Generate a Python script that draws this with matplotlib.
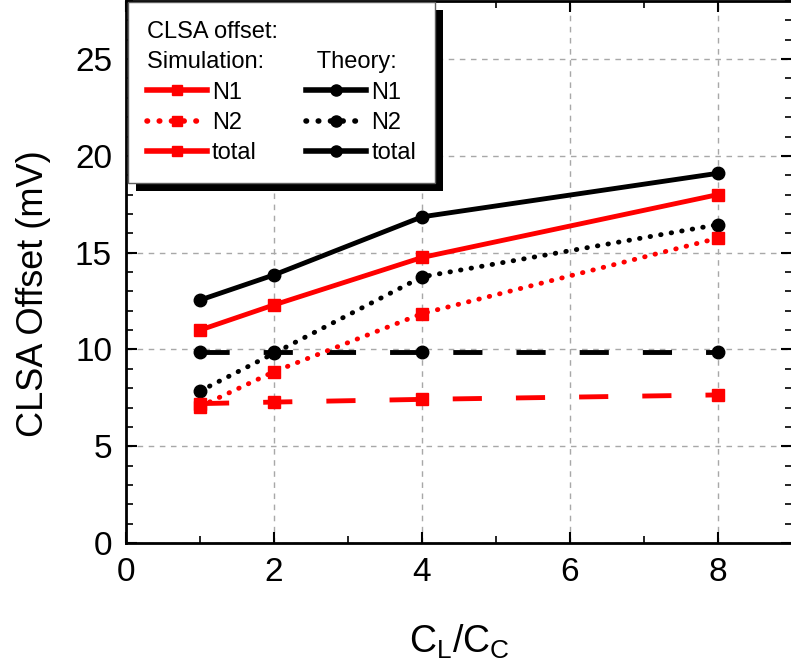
import matplotlib
matplotlib.use("Agg")
import matplotlib.pyplot as plt
from matplotlib.lines import Line2D
from matplotlib.patches import Rectangle
from matplotlib.ticker import MultipleLocator

plt.rcParams['font.family'] = ['Liberation Sans', 'DejaVu Sans']
plt.rcParams['mathtext.fontset'] = 'custom'
plt.rcParams['mathtext.rm'] = 'Liberation Sans'
plt.rcParams['mathtext.it'] = 'Liberation Sans'

# C_L/C_C ratios
ratio = [1, 2, 4, 8]

# simulation (red)
sim_total = [11.0, 12.3, 14.75, 18.0]
sim_n2 = [7.05, 8.85, 11.85, 15.75]
sim_n1 = [7.2, 7.28, 7.42, 7.65]

# theory (black)
th_total = [12.55, 13.85, 16.85, 19.1]
th_n2 = [7.85, 9.8, 13.75, 16.45]
th_n1 = [9.85, 9.85, 9.85, 9.85]

dotted = (0, (0.1, 2.1))
dashed = (0, (6, 7))

fig = plt.figure(figsize=(7.91, 6.71), dpi=100)
ax = fig.add_axes([126/791, 128/671, 666/791, 542/671])

# theory curves
ax.plot(ratio, th_total, color='black', lw=3.5, marker='o', ms=9)
ax.plot(ratio, th_n2, color='black', lw=3.5, ls=dotted, dash_capstyle='round', marker='o', ms=9)
ax.plot(ratio, th_n1, color='black', lw=3.5, ls=dashed, marker='o', ms=9)

# simulation curves
ax.plot(ratio, sim_total, color='red', lw=3.5, marker='s', ms=8)
ax.plot(ratio, sim_n2, color='red', lw=3.5, ls=dotted, dash_capstyle='round', marker='s', ms=8)
ax.plot(ratio, sim_n1, color='red', lw=3.5, ls=dashed, marker='s', ms=8)

ax.set_xlim(0, 9)
ax.set_ylim(0, 28)
ax.xaxis.set_major_locator(MultipleLocator(2))
ax.xaxis.set_minor_locator(MultipleLocator(1))
ax.yaxis.set_major_locator(MultipleLocator(5))
ax.yaxis.set_minor_locator(MultipleLocator(1))
ax.tick_params(which='both', direction='in', top=True, right=True, labelsize=24, pad=10)
ax.tick_params(which='major', length=8, width=1.5)
ax.tick_params(which='minor', length=5, width=1.2)
for s in ax.spines.values():
    s.set_linewidth(2)
ax.grid(True, which='major', color='#a8a8a8', ls=(0, (4, 4)), lw=1)

ax.set_xlabel(r'$\mathregular{C_L/C_C}$', fontsize=27, labelpad=25)
ax.set_ylabel('CLSA Offset (mV)', fontsize=26)
ax.yaxis.set_label_coords(-0.113, 0.46)

# legend (as in the original figure)
handles = [
    Line2D([], [], color='red', lw=4, marker='s', ms=7.5),
    Line2D([], [], color='red', lw=4, ls=dotted, dash_capstyle='round', marker='s', ms=7.5),
    Line2D([], [], color='red', lw=4, marker='s', ms=7.5),
    Line2D([], [], color='black', lw=4, marker='o', ms=8),
    Line2D([], [], color='black', lw=4, ls=dotted, dash_capstyle='round', marker='o', ms=8),
    Line2D([], [], color='black', lw=4, marker='o', ms=8),
]
labels = ['N1', 'N2', 'total', 'N1', 'N2', 'total']
leg = ax.legend(handles, labels, ncol=2, numpoints=1,
                title='CLSA offset:\nSimulation:        Theory:',
                alignment='left', loc='upper left', bbox_to_anchor=(0.003, 0.998),
                borderaxespad=0, fontsize=17, title_fontsize=17,
                handlelength=2.55, handletextpad=0.2, columnspacing=2.1,
                labelspacing=0.35, borderpad=0.8, fancybox=False,
                edgecolor='#606060', framealpha=1)
leg.get_title().set_linespacing(1.5)
leg.get_frame().set_linewidth(1)
leg.set_zorder(10)

# black drop shadow behind the legend
fig.canvas.draw()
bb = leg.get_frame().get_window_extent()
ax.add_patch(Rectangle((bb.x0 + 8, bb.y0 - 8), bb.width, bb.height, transform=None,
                       facecolor='black', edgecolor='none', zorder=9, clip_on=False))

fig.savefig('out.png', dpi=100)
